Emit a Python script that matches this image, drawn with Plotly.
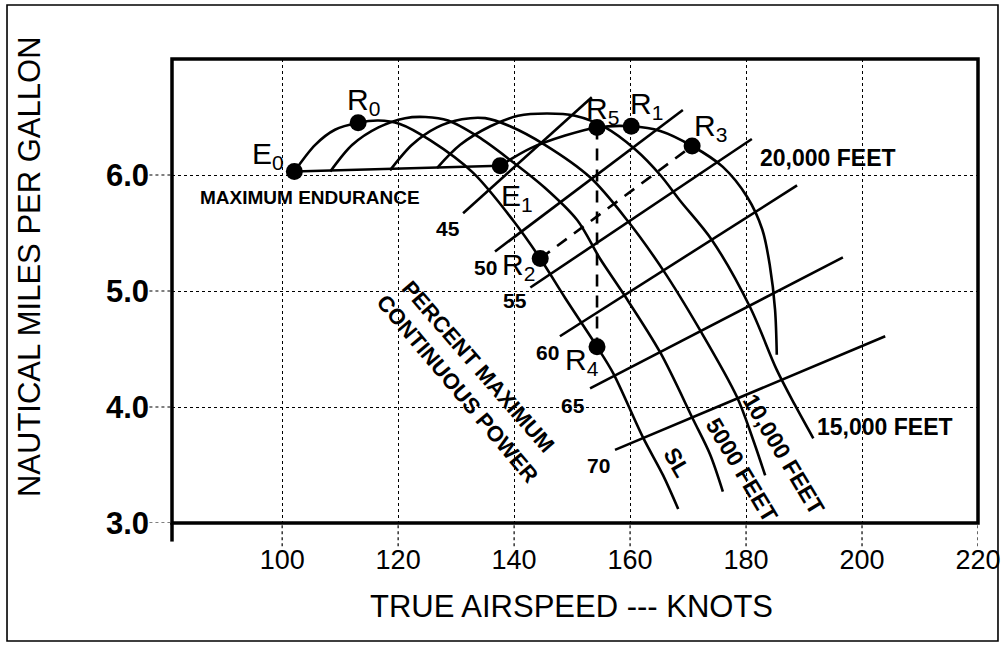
import plotly.graph_objects as go

# ---------------- axis ticks ----------------
x_ticks = [100, 120, 140, 160, 180, 200, 220]
x_tick_labels = ["100", "120", "140", "160", "180", "200", "220"]
y_ticks = [3, 4, 5, 6]
y_tick_labels = ["3.0", "4.0", "5.0", "6.0"]

# ---------------- altitude (range) curves ----------------
sl_x = [102.1, 105.7, 109.1, 113.1, 116.6, 120.3, 125.5, 132.9, 139.8, 144.5, 148.8, 154.3, 157.1, 162.2, 165.7, 168.3]
sl_y = [6.03, 6.26, 6.39, 6.45, 6.47, 6.44, 6.30, 6.02, 5.61, 5.28, 4.94, 4.52, 4.29, 3.74, 3.41, 3.12]

ft5000_x = [108.3, 112.1, 116.6, 121.2, 124.7, 128.6, 133.8, 139.3, 145.3, 150.9, 154.8, 158.8, 165.2, 170.9, 173.8, 176.0]
ft5000_y = [6.03, 6.26, 6.41, 6.49, 6.50, 6.47, 6.33, 6.13, 5.89, 5.61, 5.28, 4.98, 4.47, 3.89, 3.59, 3.27]

ft10000_x = [118.6, 122.4, 126.7, 131.0, 135.0, 139.3, 145.3, 153.1, 159.5, 165.7, 172.1, 178.4, 181.2, 183.3]
ft10000_y = [6.04, 6.26, 6.41, 6.48, 6.49, 6.42, 6.26, 5.98, 5.61, 5.18, 4.66, 4.09, 3.72, 3.41]

ft15000_x = [126.7, 130.7, 135.9, 140.7, 145.7, 150.5, 155.7, 160.9, 165.2, 168.6, 174.1, 180.7, 185.3, 188.4, 191.6]
ft15000_y = [6.06, 6.26, 6.42, 6.51, 6.53, 6.51, 6.41, 6.22, 6.00, 5.78, 5.44, 4.86, 4.32, 4.02, 3.73]

ft20000_x = [137.6, 142.8, 148.8, 154.3, 160.3, 165.2, 170.7, 176.0, 180.2, 182.8, 184.1, 185.0, 185.3]
ft20000_y = [6.08, 6.23, 6.34, 6.41, 6.42, 6.38, 6.25, 6.07, 5.81, 5.53, 5.22, 4.84, 4.45]

endurance_x = [102.1, 137.6]
endurance_y = [6.03, 6.08]

# ---------------- constant power lines ----------------
power_labels = ["45", "50", "55", "60", "65", "70"]
power_x0 = [131.2, 136.7, 142.8, 147.9, 153.1, 157.4]
power_y0 = [5.67, 5.34, 5.03, 4.61, 4.16, 3.63]
power_x1 = [153.4, 169.1, 181.0, 188.8, 196.7, 204.0]
power_y1 = [6.67, 6.56, 6.31, 5.91, 5.29, 4.61]
power_label_x = [128.6, 135.0, 140.2, 145.7, 150.2, 154.5]
power_label_y = [5.54, 5.20, 4.92, 4.47, 4.01, 3.50]

# ---------------- marked points ----------------
point_names = ["E<sub>0</sub>", "R<sub>0</sub>", "E<sub>1</sub>", "R<sub>5</sub>",
               "R<sub>1</sub>", "R<sub>3</sub>", "R<sub>2</sub>", "R<sub>4</sub>"]
point_x = [102.1, 113.1, 137.6, 154.3, 160.2, 170.7, 144.5, 154.3]
point_y = [6.03, 6.45, 6.08, 6.41, 6.42, 6.25, 5.28, 4.52]
point_label_x = [97.6, 114.0, 140.5, 155.3, 162.9, 173.8, 140.7, 151.7]
point_label_y = [6.17, 6.63, 5.81, 6.56, 6.60, 6.41, 5.21, 4.39]

# ---------------- curve labels ----------------
curve_texts = ["SL", "5000 FEET", "10,000 FEET", "15,000 FEET", "20,000 FEET"]
curve_text_x = [168.1, 179.3, 186.6, 204.0, 194.1]
curve_text_y = [3.53, 3.46, 3.59, 3.83, 6.15]
curve_text_angle = [60, 59, 59, 0, 0]

BLACK = "#000000"
FONT = "Liberation Sans, Arial, sans-serif"

fig = go.Figure()

line_style = dict(color=BLACK, width=2.6)
for cx, cy in [(sl_x, sl_y), (ft5000_x, ft5000_y), (ft10000_x, ft10000_y),
               (ft15000_x, ft15000_y), (ft20000_x, ft20000_y)]:
    fig.add_trace(go.Scatter(x=cx, y=cy, mode="lines",
                             line=dict(color=BLACK, width=2.6, shape="spline", smoothing=0.9),
                             hoverinfo="skip", showlegend=False))

fig.add_trace(go.Scatter(x=endurance_x, y=endurance_y, mode="lines", line=line_style,
                         hoverinfo="skip", showlegend=False))

for i in range(len(power_labels)):
    fig.add_trace(go.Scatter(x=[power_x0[i], power_x1[i]], y=[power_y0[i], power_y1[i]],
                             mode="lines", line=line_style, hoverinfo="skip", showlegend=False))

# dashed connectors: R2 -> R3 and R5 -> R4
i_r2, i_r3, i_r5, i_r4 = 6, 5, 3, 7
for a, b in [(i_r2, i_r3), (i_r5, i_r4)]:
    fig.add_trace(go.Scatter(x=[point_x[a], point_x[b]], y=[point_y[a], point_y[b]],
                             mode="lines", line=dict(color=BLACK, width=2.6, dash="12px,9px"),
                             hoverinfo="skip", showlegend=False))

fig.add_trace(go.Scatter(x=point_x, y=point_y, mode="markers",
                         marker=dict(color=BLACK, size=17),
                         hoverinfo="skip", showlegend=False))

annotations = []
for name, lx, ly in zip(point_names, point_label_x, point_label_y):
    annotations.append(dict(x=lx, y=ly, xref="x", yref="y", text=name, showarrow=False,
                            xanchor="center", yanchor="middle",
                            font=dict(family=FONT, size=30, color=BLACK)))
for lab, lx, ly in zip(power_labels, power_label_x, power_label_y):
    annotations.append(dict(x=lx, y=ly, xref="x", yref="y", text=lab, showarrow=False,
                            xanchor="center", yanchor="middle",
                            font=dict(family=FONT, size=21, color=BLACK, weight="bold")))
for t, tx, ty, ang in zip(curve_texts, curve_text_x, curve_text_y, curve_text_angle):
    annotations.append(dict(x=tx, y=ty, xref="x", yref="y", text=t, showarrow=False,
                            textangle=ang, xanchor="center", yanchor="middle",
                            font=dict(family=FONT, size=23, color=BLACK, weight="bold")))
annotations += [
    dict(x=104.8, y=5.81, xref="x", yref="y", text="MAXIMUM ENDURANCE", showarrow=False,
         xanchor="center", yanchor="middle",
         font=dict(family=FONT, size=19, color=BLACK, weight="bold")),
    dict(x=133.8, y=4.35, xref="x", yref="y", text="PERCENT MAXIMUM", showarrow=False,
         textangle=49, xanchor="center", yanchor="middle",
         font=dict(family=FONT, size=22, color=BLACK, weight="bold")),
    dict(x=130.2, y=4.16, xref="x", yref="y", text="CONTINUOUS POWER", showarrow=False,
         textangle=50, xanchor="center", yanchor="middle",
         font=dict(family=FONT, size=22, color=BLACK, weight="bold")),
    dict(x=-0.176, y=0.552, xref="paper", yref="paper", text="NAUTICAL MILES PER GALLON",
         showarrow=False, textangle=-90, xanchor="center", yanchor="middle",
         font=dict(family=FONT, size=31, color=BLACK)),
    dict(x=0.496, y=-0.179, xref="paper", yref="paper", text="TRUE AIRSPEED --- KNOTS",
         showarrow=False, xanchor="center", yanchor="middle",
         font=dict(family=FONT, size=31, color=BLACK)),
]

shapes = []
# dotted grid extensions outside the frame
for xv in x_ticks:
    shapes.append(dict(type="line", xref="x", yref="paper", x0=xv, x1=xv, y0=-0.05, y1=0,
                       line=dict(color=BLACK, width=1.2, dash="dot")))
for yv in y_ticks:
    shapes.append(dict(type="line", xref="paper", yref="y", x0=-0.028, x1=0, y0=yv, y1=yv,
                       line=dict(color=BLACK, width=1.2, dash="dot")))
# plot frame
shapes.append(dict(type="rect", xref="paper", yref="paper", x0=0, x1=1, y0=0, y1=1,
                   line=dict(color=BLACK, width=3.5)))
shapes.append(dict(type="line", xref="paper", yref="paper", x0=0, x1=0, y0=-0.04, y1=0,
                   line=dict(color=BLACK, width=3.5)))
# outer border
shapes.append(dict(type="rect", xref="paper", yref="paper", x0=-0.2047, x1=1.0248,
                   y0=-0.2543, y1=1.1164, line=dict(color=BLACK, width=1.6)))

fig.update_layout(
    width=1004, height=648,
    margin=dict(l=172, r=26, t=59, b=125),
    paper_bgcolor="white", plot_bgcolor="white",
    showlegend=False,
    annotations=annotations,
    shapes=shapes,
    xaxis=dict(range=[81, 220], tickvals=x_ticks, ticktext=x_tick_labels,
               showgrid=True, gridcolor=BLACK, gridwidth=1.2, griddash="dot",
               zeroline=False, showline=False, ticks="", ticklabelstandoff=18,
               automargin=False,
               tickfont=dict(family=FONT, size=27, color=BLACK)),
    yaxis=dict(range=[3, 7], tickvals=y_ticks, ticktext=y_tick_labels,
               showgrid=True, gridcolor=BLACK, gridwidth=1.2, griddash="dot",
               zeroline=False, showline=False, ticks="", ticklabelstandoff=22,
               automargin=False,
               tickfont=dict(family=FONT, size=31, color=BLACK, weight="bold")),
)

fig.write_html("out.html", config={"displayModeBar": False},
               post_script="document.body.style.margin='0';document.body.style.overflow='hidden';")
